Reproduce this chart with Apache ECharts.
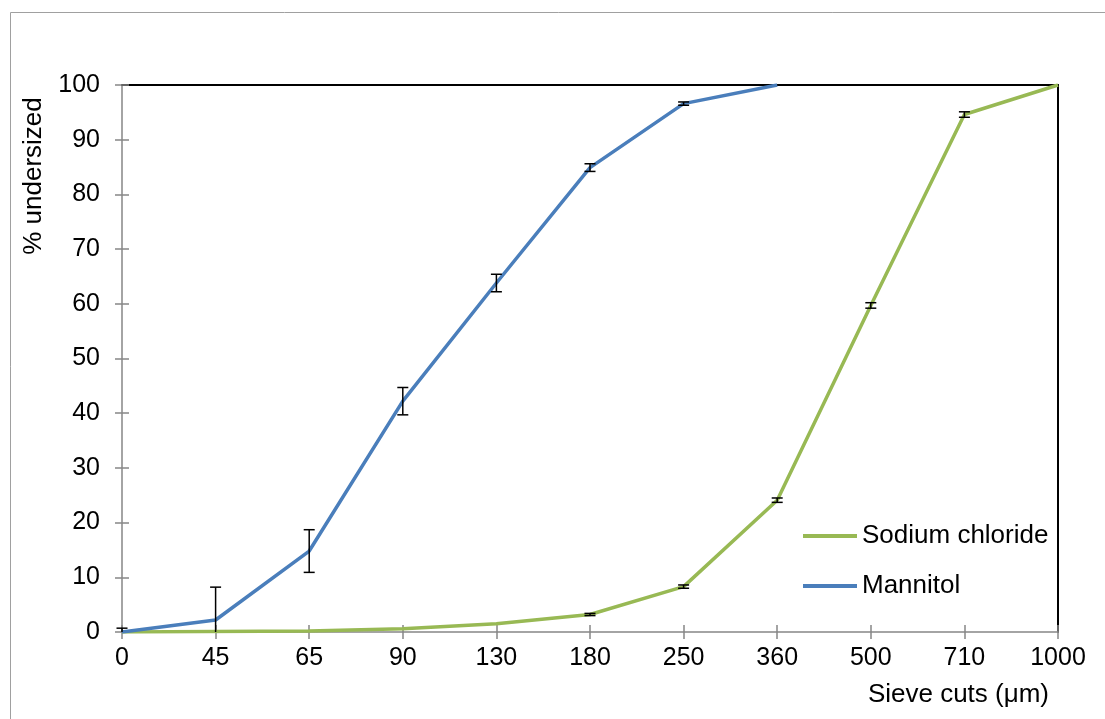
<!DOCTYPE html>
<html>
<head>
<meta charset="utf-8">
<script src="https://cdn.jsdelivr.net/npm/echarts@6/dist/echarts.min.js"></script>
<style>html,body{margin:0;padding:0;background:#fff}#c{width:1105px;height:719px}</style>
</head>
<body>
<div id="c"></div>
<script>
var categories = ['0','45','65','90','130','180','250','360','500','710','1000'];
var yTicks = [0,10,20,30,40,50,60,70,80,90,100];
var mannitol = [0, 2.2, 14.8, 42.2, 63.8, 84.9, 96.6, 100, '-', '-', '-'];
var mannitolErr = [0.7, 6.0, 3.9, 2.5, 1.6, 0.7, 0.3, 0, 0, 0, 0];
var sodium = [0, 0.1, 0.2, 0.6, 1.5, 3.2, 8.3, 24.1, 59.7, 94.6, 100];
var sodiumErr = [0, 0, 0, 0, 0, 0.2, 0.3, 0.4, 0.5, 0.5, 0];

var FONT = "'Liberation Sans', Arial, sans-serif";
var BLUE = '#4A7EBB', GREEN = '#98B954', AXIS = '#868686';

function errData(vals, errs) {
  var out = [];
  for (var i = 0; i < vals.length; i++) {
    if (vals[i] !== '-' && errs[i] > 0) out.push([i, vals[i], errs[i]]);
  }
  return out;
}
function renderErr(params, api) {
  var x = api.value(0), v = api.value(1), e = api.value(2);
  var hi = Math.min(100, v + e), lo = v - e;
  var loClip = lo < 0; if (loClip) lo = 0;
  var pHi = api.coord([x, hi]), pLo = api.coord([x, lo]);
  var hw = 5.5;
  var st = {stroke: '#000', lineWidth: 1.5};
  var ch = [
    {type: 'line', shape: {x1: pHi[0], y1: pHi[1], x2: pLo[0], y2: pLo[1]}, style: st},
    {type: 'line', shape: {x1: pHi[0]-hw, y1: pHi[1], x2: pHi[0]+hw, y2: pHi[1]}, style: st}
  ];
  if (!loClip) ch.push({type: 'line', shape: {x1: pLo[0]-hw, y1: pLo[1], x2: pLo[0]+hw, y2: pLo[1]}, style: st});
  return {type: 'group', children: ch};
}

var chart = echarts.init(document.getElementById('c'), null, {renderer: 'canvas'});
var yBase = {type: 'value', min: yTicks[0], max: yTicks[yTicks.length-1], interval: 10, splitLine: {show: false}};
chart.setOption({
  animation: false,
  textStyle: {fontFamily: FONT},
  grid: {left: 122, right: 47, top: 85, bottom: 87},
  graphic: [
    {type: 'rect', shape: {x: 10.5, y: 12.5, width: 1200, height: 800}, style: {fill: 'none', stroke: '#A0A0A0', lineWidth: 1}, silent: true},
    {type: 'text', x: 34, y: 176, rotation: Math.PI/2, style: {text: '% undersized', font: '26px ' + FONT, fill: '#000', align: 'center', verticalAlign: 'middle'}}
  ],
  legend: {
    orient: 'vertical', left: 803, top: 521, padding: 0, itemGap: 20, itemWidth: 54, itemHeight: 4, icon: 'rect',
    data: ['Sodium chloride', 'Mannitol'],
    textStyle: {fontSize: 26, fontFamily: FONT, color: '#000', lineHeight: 30, padding: [0,0,0,0]}
  },
  xAxis: [
    {type: 'category', data: categories, boundaryGap: false, position: 'bottom',
     axisLine: {onZero: false, lineStyle: {color: AXIS, width: 1.5}},
     axisTick: {show: true, inside: false, length: 7, lineStyle: {color: AXIS, width: 1.5}},
     axisLabel: {fontSize: 25, color: '#000', margin: 14, fontFamily: FONT},
     name: 'Sieve cuts (μm)', nameLocation: 'end', nameGap: -9,
     nameTextStyle: {fontSize: 26, color: '#000', align: 'right', verticalAlign: 'top', padding: [50,0,0,0], fontFamily: FONT}},
    {type: 'category', data: categories, boundaryGap: false, position: 'bottom',
     axisLine: {show: false, onZero: false}, axisTick: {show: true, inside: true, length: 7, lineStyle: {color: AXIS, width: 1.5}},
     axisLabel: {show: false}},
    {type: 'category', data: categories, boundaryGap: false, position: 'top',
     axisLine: {show: true, onZero: false, lineStyle: {color: '#000', width: 2}}, axisTick: {show: false}, axisLabel: {show: false}}
  ],
  yAxis: [
    Object.assign({}, yBase, {position: 'left',
      axisLine: {show: true, onZero: false, lineStyle: {color: AXIS, width: 1.5}},
      axisTick: {show: true, inside: false, length: 7, lineStyle: {color: AXIS, width: 1.5}},
      axisLabel: {fontSize: 25, color: '#000', margin: 22, fontFamily: FONT}}),
    Object.assign({}, yBase, {position: 'left',
      axisLine: {show: false, onZero: false},
      axisTick: {show: true, inside: true, length: 7, lineStyle: {color: AXIS, width: 1.5}},
      axisLabel: {show: false}}),
    Object.assign({}, yBase, {position: 'right',
      axisLine: {show: true, onZero: false, lineStyle: {color: '#000', width: 2}},
      axisTick: {show: false}, axisLabel: {show: false}})
  ],
  series: [
    {name: 'Sodium chloride', type: 'line', data: sodium, symbol: 'none', lineStyle: {color: GREEN, width: 3.5}, itemStyle: {color: GREEN}, z: 3},
    {name: 'Mannitol', type: 'line', data: mannitol, symbol: 'none', lineStyle: {color: BLUE, width: 3.5}, itemStyle: {color: BLUE}, z: 4},
    {type: 'custom', renderItem: renderErr, data: errData(mannitol, mannitolErr), encode: {x: 0, y: 1}, z: 5, silent: true},
    {type: 'custom', renderItem: renderErr, data: errData(sodium, sodiumErr), encode: {x: 0, y: 1}, z: 5, silent: true}
  ]
});
</script>
</body>
</html>
